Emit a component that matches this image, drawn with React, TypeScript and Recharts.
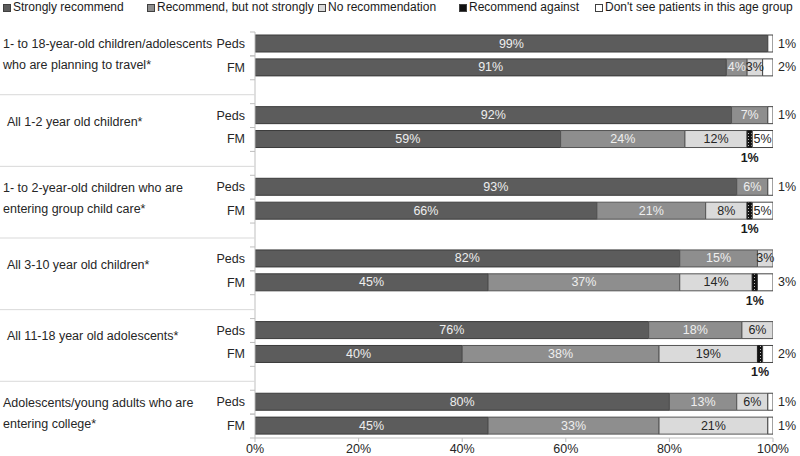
import React from 'react';
import { BarChart, Bar, XAxis, YAxis, LabelList } from 'recharts';

const FONT = '"Liberation Sans", Arial, Helvetica, sans-serif';

const GROUP_LABELS: string[][] = [
  ['1- to 18-year-old children/adolescents', 'who are planning to travel*'],
  ['All 1-2 year old children*'],
  ['1- to 2-year-old children who are', 'entering group child care*'],
  ['All 3-10 year old children*'],
  ['All 11-18 year old adolescents*'],
  ['Adolescents/young adults who are', 'entering college*'],
];
const RESPONDENTS = ['Peds', 'FM'];
const SERIES_NAMES = [
  'Strongly recommend',
  'Recommend, but not strongly',
  'No recommendation',
  'Recommend against',
  "Don't see patients in this age group",
];
const X_TICKS = [0, 20, 40, 60, 80, 100];

const PEDS_STRONG = [99, 92, 93, 82, 76, 80];
const PEDS_NOT_STRONG = [0, 7, 6, 15, 18, 13];
const PEDS_NO_REC = [0, 0, 0, 3, 6, 6];
const PEDS_AGAINST = [0, 0, 0, 0, 0, 0];
const PEDS_DONT_SEE = [1, 1, 1, 0, 0, 1];

const FM_STRONG = [91, 59, 66, 45, 40, 45];
const FM_NOT_STRONG = [4, 24, 21, 37, 38, 33];
const FM_NO_REC = [3, 12, 8, 14, 19, 21];
const FM_AGAINST = [0, 1, 1, 1, 1, 0];
const FM_DONT_SEE = [2, 5, 5, 3, 2, 1];

type Row = {
  key: string;
  kind: string;
  g: number;
  strong: number;
  notStrong: number;
  noRec: number;
  against: number;
  dontSee: number;
};

const rows: Row[] = [];
GROUP_LABELS.forEach((_, g) => {
  rows.push({
    key: `p${g}`, kind: RESPONDENTS[0], g,
    strong: PEDS_STRONG[g], notStrong: PEDS_NOT_STRONG[g], noRec: PEDS_NO_REC[g],
    against: PEDS_AGAINST[g], dontSee: PEDS_DONT_SEE[g],
  });
  rows.push({
    key: `f${g}`, kind: RESPONDENTS[1], g,
    strong: FM_STRONG[g], notStrong: FM_NOT_STRONG[g], noRec: FM_NO_REC[g],
    against: FM_AGAINST[g], dontSee: FM_DONT_SEE[g],
  });
  if (g < GROUP_LABELS.length - 1) {
    rows.push({ key: `s${g}`, kind: '', g, strong: 0, notStrong: 0, noRec: 0, against: 0, dontSee: 0 });
  }
});

const W = 800;
const H = 456;
const TOP = 32;
const XH = 18;
const YW = 255;
const RIGHT = 27;
const BAND = (H - TOP - XH) / rows.length;

const COLORS = ['#5c5c5c', '#8e8e8e', '#dadada', 'url(#againstDots)', '#ffffff'];
const LEGEND_FILLS = ['#5c5c5c', '#8e8e8e', '#dadada', '#111111', '#ffffff'];
const LEGEND_X = [3, 147, 318, 459, 595];

const renderYTick = (props: any) => {
  const { y, payload } = props;
  const row = rows.find((r) => r.key === payload.value);
  if (!row) return null;
  const half = BAND / 2;
  if (row.kind === '') {
    return (
      <g>
        <line x1={0} x2={YW} y1={y + 3} y2={y + 3} stroke="#d9d9d9" strokeWidth={1} />
      </g>
    );
  }
  const label = GROUP_LABELS[row.g];
  const boundary = y + half;
  return (
    <g>
      <line x1={YW - 5} x2={YW} y1={y - half} y2={y - half} stroke="#bfbfbf" />
      <line x1={YW - 5} x2={YW} y1={y + half} y2={y + half} stroke="#bfbfbf" />
      <text x={245} y={y} dominantBaseline="central" textAnchor="end" fontSize={12.5} fontFamily={FONT} fill="#262626">
        {row.kind}
      </text>
      {row.kind === RESPONDENTS[0] &&
        (label.length === 1 ? (
          <text x={7} y={boundary - 6} dominantBaseline="central" fontSize={12.5} fontFamily={FONT} fill="#262626">
            {label[0]}
          </text>
        ) : (
          <g>
            <text x={3} y={boundary - 11.5} dominantBaseline="central" fontSize={12.5} fontFamily={FONT} fill="#262626">
              {label[0]}
            </text>
            <text x={3} y={boundary + 9.5} dominantBaseline="central" fontSize={12.5} fontFamily={FONT} fill="#262626">
              {label[1]}
            </text>
          </g>
        ))}
    </g>
  );
};

const makeLabel = (key: keyof Row, mode: string, color: string) => (props: any) => {
  const vb = props.viewBox || {};
  const x = vb.x ?? props.x;
  const y = vb.y ?? props.y;
  const w = vb.width ?? props.width;
  const h = vb.height ?? props.height;
  if (x == null || y == null) return null;
  const rowIdx = Math.floor((y + h / 2 - TOP) / BAND);
  const row = rows[rowIdx];
  const v = row ? (row[key] as number) : Number(props.value);
  if (!v || typeof v !== 'number') return null;
  const common = { fontSize: 12.5, fontFamily: FONT };
  if (mode === 'against') {
    return (
      <text x={x + w / 2} y={y + h + 10} textAnchor="middle" dominantBaseline="central" fontWeight="bold" fill="#1a1a1a" {...common}>
        {`${v}%`}
      </text>
    );
  }
  if (mode === 'dontSee' && v < 5) {
    return (
      <text x={x + w + 5} y={y + h / 2} textAnchor="start" dominantBaseline="central" fill="#262626" {...common}>
        {`${v}%`}
      </text>
    );
  }
  return (
    <text x={x + w / 2} y={y + h / 2} textAnchor="middle" dominantBaseline="central" fill={color} {...common}>
      {`${v}%`}
    </text>
  );
};

const Legend = () => (
  <div style={{ position: 'absolute', left: 0, top: 0, width: W, height: 16, fontFamily: FONT, fontSize: 12, color: '#1a1a1a' }}>
    {SERIES_NAMES.map((name, i) => (
      <div key={name} style={{ position: 'absolute', left: LEGEND_X[i], top: 0, height: 14, whiteSpace: 'nowrap' }}>
        <span
          style={{
            position: 'absolute', left: 0, top: 4, width: 6, height: 6,
            background: LEGEND_FILLS[i], border: '1px solid #404040',
          }}
        />
        <span style={{ position: 'absolute', left: 10, top: 0, lineHeight: '14px' }}>{name}</span>
      </div>
    ))}
  </div>
);

export default function App() {
  return (
    <div style={{ position: 'fixed', left: 0, top: 0, width: W, height: H, background: '#fff' }}>
      <BarChart
        width={W}
        height={H}
        data={rows}
        layout="vertical"
        margin={{ top: TOP, right: RIGHT, bottom: 0, left: 0 }}
        barSize={17}
      >
        <defs>
          <pattern id="againstDots" width={3} height={3} patternUnits="userSpaceOnUse">
            <rect x={0} y={0} width={3} height={3} fill="#111" />
            <rect x={1} y={1} width={1} height={1} fill="#bbb" />
          </pattern>
        </defs>
        <XAxis
          type="number"
          domain={[0, 100]}
          allowDataOverflow
          ticks={X_TICKS}
          tickFormatter={(v: number) => `${v}%`}
          height={XH}
          tickSize={4}
          tickMargin={2}
          stroke="#bfbfbf"
          tick={{ fill: '#262626', fontSize: 12.5, fontFamily: FONT }}
        />
        <YAxis
          type="category"
          dataKey="key"
          width={YW}
          interval={0}
          tickLine={false}
          axisLine={{ stroke: '#bfbfbf' }}
          tick={renderYTick}
        />
        <Bar dataKey="strong" stackId="a" fill={COLORS[0]} stroke="#3a3a3a" strokeWidth={1} isAnimationActive={false}>
          <LabelList dataKey="strong" content={makeLabel('strong', 'inside', '#eeeeee')} />
        </Bar>
        <Bar dataKey="notStrong" stackId="a" fill={COLORS[1]} stroke="#555" strokeWidth={1} isAnimationActive={false}>
          <LabelList dataKey="notStrong" content={makeLabel('notStrong', 'inside', '#eeeeee')} />
        </Bar>
        <Bar dataKey="noRec" stackId="a" fill={COLORS[2]} stroke="#555" strokeWidth={1} isAnimationActive={false}>
          <LabelList dataKey="noRec" content={makeLabel('noRec', 'inside', '#262626')} />
        </Bar>
        <Bar dataKey="against" stackId="a" fill={COLORS[3]} stroke="#222" strokeWidth={1} isAnimationActive={false}>
          <LabelList dataKey="against" content={makeLabel('against', 'against', '#1a1a1a')} />
        </Bar>
        <Bar dataKey="dontSee" stackId="a" fill={COLORS[4]} stroke="#444" strokeWidth={1} isAnimationActive={false}>
          <LabelList dataKey="dontSee" content={makeLabel('dontSee', 'dontSee', '#262626')} />
        </Bar>
      </BarChart>
      <Legend />
    </div>
  );
}
